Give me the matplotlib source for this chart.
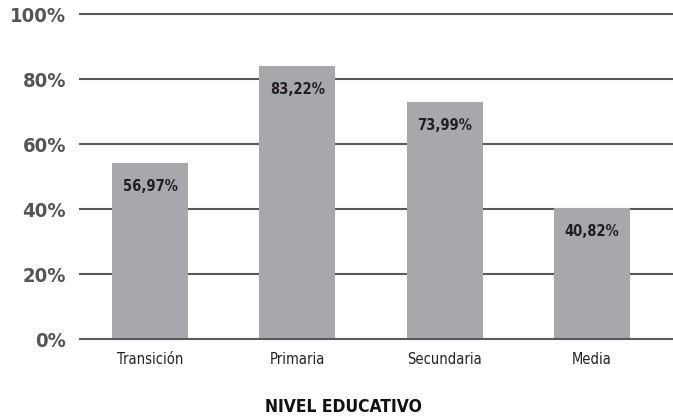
import matplotlib
matplotlib.use("Agg")
import matplotlib.pyplot as plt

categories = ["Transición", "Primaria", "Secundaria", "Media"]
bar_heights = [54.2, 84.1, 72.9, 40.3]
value_labels = ["56,97%", "83,22%", "73,99%", "40,82%"]
yticks = [0, 20, 40, 60, 80, 100]
ytick_labels = ["0%", "20%", "40%", "60%", "80%", "100%"]
xlabel = "NIVEL EDUCATIVO"

fam = "DejaVu Sans"
stretch = "condensed"

fig = plt.figure(figsize=(6.73, 4.18), dpi=100)
ax = fig.add_axes([80/673, 1-339.3/418, 593/673, (339.3-14)/418])

x = list(range(len(categories)))
ax.bar(x, bar_heights, width=0.516, color="#a7a8ab", zorder=3)
ax.set_xlim(-0.475, 3.55)
ax.set_ylim(0, 100)

for v in yticks:
    ax.axhline(v, color="#5a5a5a", lw=1.5, zorder=2 if v else 4, clip_on=False)

for s in ax.spines.values():
    s.set_visible(False)

ax.set_yticks(yticks)
ax.set_yticklabels(ytick_labels, fontsize=14.5, fontweight="bold", color="#555555",
                   family=fam, stretch=stretch)
ax.tick_params(axis="y", length=0, pad=10)
ax.set_xticks(x)
ax.set_xticklabels(categories, fontsize=10.5, color="#222222", family=fam, stretch=stretch)
ax.tick_params(axis="x", length=0, pad=9)

for xi, h, lab in zip(x, bar_heights, value_labels):
    ax.annotate(lab, (xi, h), xytext=(0, -17), textcoords="offset points",
                ha="center", va="center", fontsize=10.5, fontweight="bold",
                color="#231f20", family=fam, stretch=stretch, zorder=5)

fig.text(0.511, 1-407/418, xlabel, ha="center", va="center", fontsize=12.5,
         fontweight="bold", color="#111111", family=fam, stretch=stretch)

fig.savefig("out.png", dpi=100)
